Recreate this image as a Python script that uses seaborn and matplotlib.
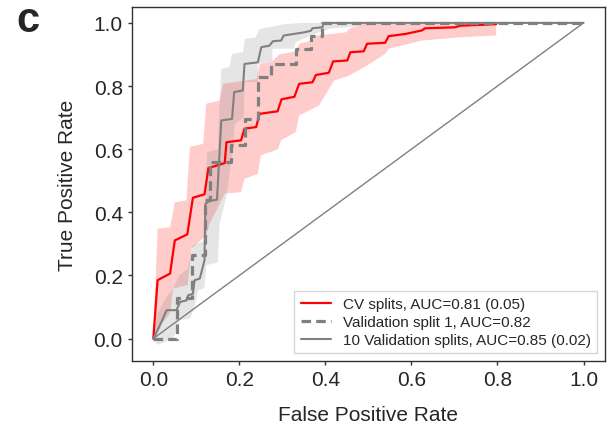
import matplotlib
matplotlib.use("Agg")
import matplotlib.pyplot as plt
import seaborn as sns
import numpy as np

# CV splits: mean ROC and +/- std band
cv_fpr = [0, 0.010, 0.039, 0.050, 0.079, 0.092, 0.119, 0.128, 0.166, 0.170, 0.204, 0.212,
          0.239, 0.247, 0.289, 0.298, 0.328, 0.339, 0.370, 0.378, 0.408, 0.418, 0.451,
          0.458, 0.489, 0.497, 0.539, 0.547, 0.586, 0.624, 0.632, 0.701, 0.713, 0.797]
cv_tpr = [0, 0.185, 0.206, 0.311, 0.330, 0.446, 0.457, 0.540, 0.556, 0.622, 0.628, 0.665,
          0.670, 0.712, 0.720, 0.758, 0.766, 0.807, 0.812, 0.835, 0.842, 0.878, 0.881,
          0.907, 0.910, 0.934, 0.937, 0.958, 0.965, 0.976, 0.983, 0.986, 0.991, 0.996]
cv_up_fpr = [0, 0.010, 0.039, 0.050, 0.077, 0.085, 0.116, 0.123, 0.154, 0.162, 0.212, 0.240,
             0.247, 0.274, 0.293, 0.331, 0.340, 0.370, 0.380, 0.447, 0.460, 0.497, 0.550, 0.797]
cv_up_tpr = [0, 0.348, 0.353, 0.432, 0.438, 0.607, 0.617, 0.744, 0.754, 0.807, 0.817, 0.822,
             0.870, 0.875, 0.900, 0.910, 0.935, 0.944, 0.960, 0.970, 0.985, 0.997, 1.0, 1.0]
cv_lo_fpr = [0, 0.010, 0.039, 0.046, 0.080, 0.089, 0.123, 0.131, 0.166, 0.204, 0.212, 0.243,
             0.250, 0.290, 0.297, 0.331, 0.339, 0.385, 0.420, 0.455, 0.497, 0.539, 0.547,
             0.624, 0.709, 0.797]
cv_lo_tpr = [0, 0.030, 0.080, 0.158, 0.170, 0.285, 0.327, 0.364, 0.459, 0.464, 0.506, 0.522,
             0.580, 0.600, 0.628, 0.654, 0.707, 0.738, 0.817, 0.833, 0.865, 0.902, 0.918,
             0.944, 0.954, 0.960]

# Validation split 1 (step curve)
v1_fpr = [0, 0.056, 0.056, 0.089, 0.089, 0.121, 0.121, 0.131, 0.131, 0.180, 0.180, 0.212,
          0.212, 0.243, 0.243, 0.274, 0.274, 0.331, 0.331, 0.366, 0.366, 0.393, 0.393, 1.0]
v1_tpr = [0, 0, 0.127, 0.127, 0.264, 0.264, 0.440, 0.440, 0.560, 0.560, 0.612, 0.612,
          0.696, 0.696, 0.830, 0.830, 0.870, 0.870, 0.916, 0.916, 0.960, 0.960, 1.0, 1.0]

# 10 validation splits: mean ROC and +/- std band
v10_fpr = [0, 0.012, 0.031, 0.054, 0.062, 0.077, 0.081, 0.092, 0.096, 0.108, 0.119, 0.121,
           0.131, 0.148, 0.158, 0.183, 0.188, 0.208, 0.212, 0.243, 0.251, 0.270, 0.278,
           0.297, 0.303, 0.327, 0.350, 0.366, 0.370, 0.393, 0.396, 1.0]
v10_tpr = [0, 0.032, 0.090, 0.090, 0.116, 0.121, 0.137, 0.142, 0.185, 0.190, 0.248, 0.427,
           0.436, 0.440, 0.691, 0.696, 0.781, 0.786, 0.870, 0.875, 0.923, 0.928, 0.942,
           0.944, 0.960, 0.965, 0.970, 0.975, 0.983, 0.986, 1.0, 1.0]
v10_up_fpr = [0, 0.010, 0.030, 0.046, 0.060, 0.080, 0.092, 0.119, 0.125, 0.150, 0.154, 0.158,
              0.177, 0.183, 0.208, 0.213, 0.238, 0.246, 0.304, 0.350, 1.0]
v10_up_tpr = [0, 0.080, 0.130, 0.158, 0.200, 0.220, 0.295, 0.310, 0.590, 0.600, 0.740, 0.854,
              0.860, 0.902, 0.907, 0.949, 0.954, 0.980, 0.996, 1.0, 1.0]
v10_lo_fpr = [0, 0.010, 0.046, 0.054, 0.062, 0.085, 0.089, 0.096, 0.104, 0.119, 0.123, 0.150,
              0.154, 0.170, 0.185, 0.190, 0.210, 0.212, 0.243, 0.243, 0.277, 0.277, 0.327,
              0.331, 0.366, 0.408, 0.485, 0.550, 1.0]
v10_lo_tpr = [0, -0.020, 0.0, 0.026, 0.058, 0.063, 0.074, 0.105, 0.153, 0.160, 0.232, 0.242,
              0.364, 0.450, 0.600, 0.680, 0.700, 0.812, 0.812, 0.870, 0.876, 0.918, 0.918,
              0.939, 0.960, 0.981, 0.991, 1.0, 1.0]

chance = [0, 1]

labels = ["CV splits, AUC=0.81 (0.05)",
          "Validation split 1, AUC=0.82",
          "10 Validation splits, AUC=0.85 (0.02)"]


def band(ax, xu, yu, xl, yl, color):
    xs = np.concatenate([xu, xl[::-1]])
    ys = np.concatenate([yu, yl[::-1]])
    ax.fill(xs, ys, color=color, alpha=0.2, lw=0)


def main():
    sns.set_style("ticks")
    plt.rcParams['font.family'] = ['Liberation Sans', 'DejaVu Sans']

    fig = plt.figure(figsize=(6.13, 4.27), dpi=100)
    ax = fig.add_axes([0.215, 0.153, 0.772, 0.828])

    sns.lineplot(x=chance, y=chance, color='grey', lw=1, ax=ax)

    band(ax, cv_up_fpr, cv_up_tpr, cv_lo_fpr, cv_lo_tpr, 'red')
    band(ax, v10_up_fpr, v10_up_tpr, v10_lo_fpr, v10_lo_tpr, 'grey')

    sns.lineplot(x=cv_fpr, y=cv_tpr, color='red', lw=1.6, sort=False,
                 estimator=None, label=labels[0], ax=ax)
    sns.lineplot(x=v1_fpr, y=v1_tpr, color='grey', lw=2.3, sort=False,
                 estimator=None, label=labels[1], ax=ax, dashes=False)
    ax.lines[-1].set_linestyle((0, (3, 1.6)))
    sns.lineplot(x=v10_fpr, y=v10_tpr, color='grey', lw=1.5, sort=False,
                 estimator=None, label=labels[2], ax=ax)

    ax.set_xlim(-0.05, 1.05)
    ax.set_ylim(-0.07, 1.05)
    ax.set_xticks(np.arange(0, 1.01, 0.2))
    ax.set_yticks(np.arange(0, 1.01, 0.2))
    ax.tick_params(labelsize=15, length=3, width=1, color='0.2')
    for s in ax.spines.values():
        s.set_color('0.2')
        s.set_linewidth(1)
    ax.set_xlabel('False Positive Rate', fontsize=15, labelpad=12)
    ax.set_ylabel('True Positive Rate', fontsize=15, labelpad=12)

    ax.legend(loc='lower right', fontsize=11, frameon=True, handlelength=2.0,
              labelspacing=0.25, borderaxespad=0.5, fancybox=False, edgecolor='0.8')

    fig.text(0.026, 0.925, 'c', fontsize=30, fontweight='heavy', ha='left', va='baseline')

    fig.savefig('out.png', dpi=100)


if __name__ == '__main__':
    main()
